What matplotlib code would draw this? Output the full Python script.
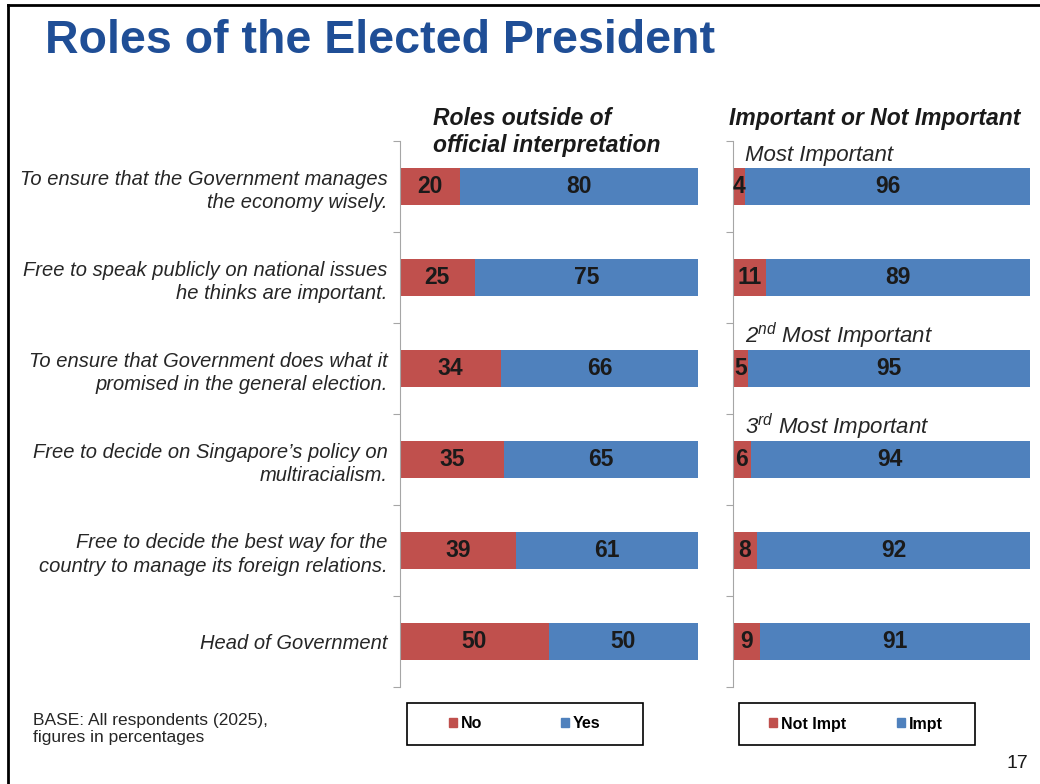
"""Roles of the Elected President - two stacked 100% bar panels."""

import matplotlib

matplotlib.use("Agg")
import matplotlib.pyplot as plt
import numpy as np
from matplotlib.lines import Line2D
from matplotlib.patches import Patch, Rectangle

# ====== Data ======
roles = [
    "To ensure that the Government manages\nthe economy wisely.",
    "Free to speak publicly on national issues\nhe thinks are important.",
    "To ensure that Government does what it\npromised in the general election.",
    "Free to decide on Singapore\u2019s policy on\nmultiracialism.",
    "Free to decide the best way for the\ncountry to manage its foreign relations.",
    "Head of Government",
]
no_pct = [20, 25, 34, 35, 39, 50]
yes_pct = [80, 75, 66, 65, 61, 50]
not_impt_pct = [4, 11, 5, 6, 8, 9]
impt_pct = [96, 89, 95, 94, 92, 91]

# rank notes shown above some rows of the right panel (row index, text)
rank_notes = [(0, "Most Important"), (2, "2$^{nd}$ Most Important"), (3, "3$^{rd}$ Most Important")]
# ==================

RED = "#C0504D"
BLUE = "#4F81BD"
TXT = "#1a1a1a"
W, H = 1040, 784

plt.rcParams["font.family"] = ["Liberation Sans", "DejaVu Sans"]
plt.rcParams["mathtext.fontset"] = "custom"
plt.rcParams["mathtext.it"] = "Liberation Sans:italic"
plt.rcParams["mathtext.rm"] = "Liberation Sans:italic"

fig = plt.figure(figsize=(W / 100, H / 100), dpi=100)


def fx(px):
    return px / W


def fy(py):
    return 1 - py / H


top, bottom = 141, 687
ax1 = fig.add_axes([fx(400), fy(bottom), fx(698 - 400), (bottom - top) / H])
ax2 = fig.add_axes([fx(733), fy(bottom), fx(1030 - 733), (bottom - top) / H])

y = np.arange(len(roles))


def draw_panel(ax, left_vals, right_vals):
    ax.barh(y, left_vals, height=0.4, color=RED)
    ax.barh(y, right_vals, left=left_vals, height=0.4, color=BLUE)
    for i, (a, b) in enumerate(zip(left_vals, right_vals)):
        ax.text(a / 2, i, str(a), ha="center", va="center", fontsize=16.5,
                fontweight="bold", color=TXT)
        ax.text(a + b / 2, i, str(b), ha="center", va="center", fontsize=16.5,
                fontweight="bold", color=TXT)
    ax.set_xlim(0, 100)
    ax.set_ylim(len(roles) - 0.5, -0.5)
    ax.set_xticks([])
    for s in ("top", "right", "bottom"):
        ax.spines[s].set_visible(False)
    ax.spines["left"].set_color("#a6a6a6")
    ax.set_yticks(np.arange(len(roles) + 1) - 0.5)
    ax.set_yticklabels([])
    ax.tick_params(axis="y", which="major", length=5, color="#a6a6a6", direction="out")


draw_panel(ax1, no_pct, yes_pct)
draw_panel(ax2, not_impt_pct, impt_pct)

# category labels on the left panel
ax1.set_yticks(y, minor=True)
ax1.set_yticklabels(roles, minor=True, fontsize=14.5, style="italic", color="#262626",
                    linespacing=1.3)
ax1.tick_params(axis="y", which="minor", length=0, pad=9)

# rank notes on the right panel
for i, note in rank_notes:
    ax2.text(0.04, i - 0.28, note, transform=ax2.get_yaxis_transform(), ha="left",
             va="baseline", fontsize=16, style="italic", color="#262626")

# headers
fig.text(fx(433), fy(132), "Roles outside of\nofficial interpretation", ha="left", va="center",
         fontsize=16.5, fontweight="bold", style="italic", color=TXT, linespacing=1.2)
fig.text(fx(729), fy(118), "Important or Not Important", ha="left", va="center",
         fontsize=16.5, fontweight="bold", style="italic", color=TXT)

# title
fig.text(fx(45), fy(41), "Roles of the Elected President", ha="left", va="center",
         fontsize=33.5, fontweight="bold", color="#1F4E96")

# legends: frameless entries inside drawn boxes
leg_kw = dict(ncol=2, frameon=False, handlelength=0.5, handleheight=0.5,
              handletextpad=0.25, borderpad=0, prop={"weight": "bold", "size": 11.5})
fig.legend([Patch(color=RED), Patch(color=BLUE)], ["No", "Yes"], loc="center",
           bbox_to_anchor=(fx(525), fy(724)), columnspacing=4.9, **leg_kw)
fig.legend([Patch(color=RED), Patch(color=BLUE)], ["Not Impt", "Impt"], loc="center",
           bbox_to_anchor=(fx(856), fy(724)), columnspacing=3.2, **leg_kw)
for x0 in (407, 739):
    fig.add_artist(Rectangle((fx(x0), fy(745)), fx(236), 42 / H, transform=fig.transFigure,
                             fill=False, edgecolor="black", lw=1.2))

# footnote and page number
fig.text(fx(33), fy(729), "BASE: All respondents (2025),\nfigures in percentages", ha="left",
         va="center", fontsize=12.5, color="#262626", linespacing=1.15)
fig.text(fx(1028), fy(763), "17", ha="right", va="center", fontsize=14, color=TXT)

# slide frame (left and top edges)
fig.add_artist(Line2D([fx(8), fx(8)], [0, fy(5)], color="black", lw=2))
fig.add_artist(Line2D([fx(8), 1], [fy(5), fy(5)], color="black", lw=2))

fig.savefig("out.png", dpi=100)
